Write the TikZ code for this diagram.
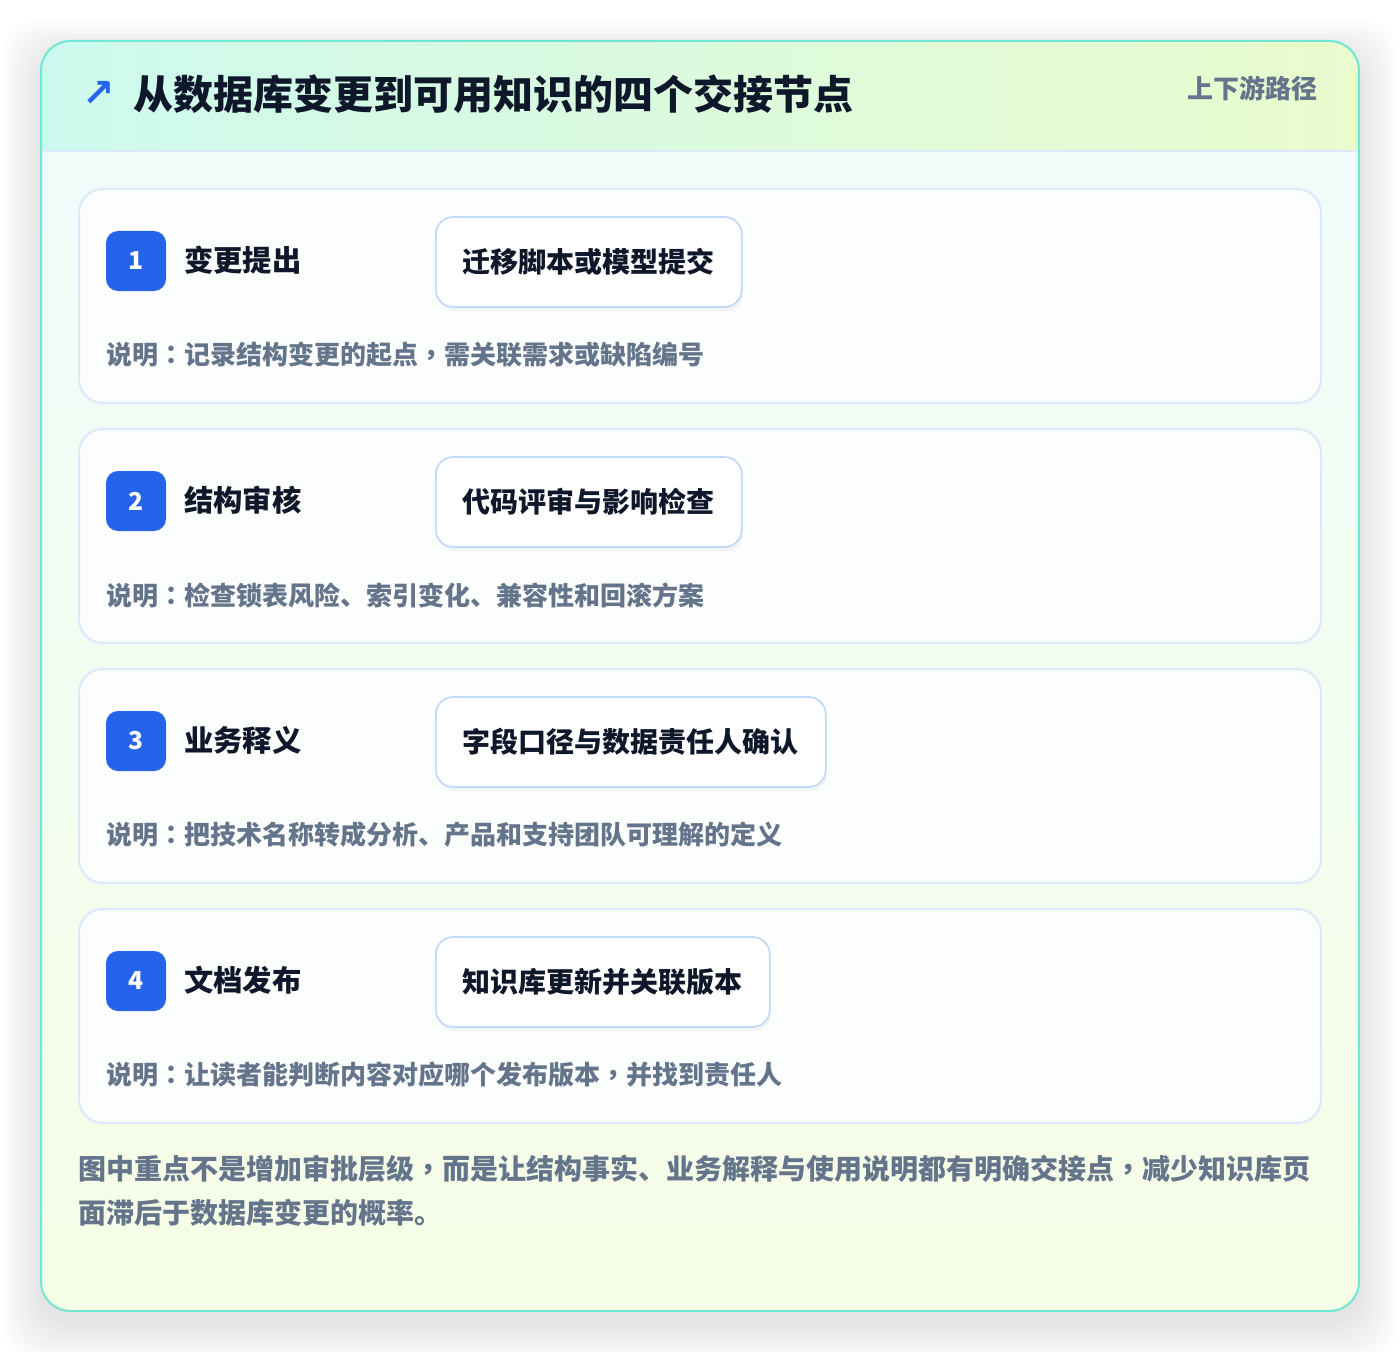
\documentclass[tikz,border=0pt]{standalone}
\usepackage{fontspec}
\setmainfont{Noto Sans CJK SC}
\newfontfamily\symfont{DejaVu Sans}
\newfontfamily\punct{Noto Sans CJK TC}
\usetikzlibrary{positioning}
\usepackage{xcolor}
\definecolor{panelline}{HTML}{6EE7D4}
\definecolor{headleft}{HTML}{CDFAEE}
\definecolor{headright}{HTML}{EAFBCD}
\definecolor{bodytop}{HTML}{F0FCFA}
\definecolor{bodybottom}{HTML}{F6FDE6}
\definecolor{cardfill}{HTML}{FCFEFD}
\definecolor{cardline}{HTML}{DCE8FB}
\definecolor{chipline}{HTML}{BFD7F8}
\definecolor{badgeblue}{HTML}{2563EB}
\definecolor{inkdark}{HTML}{0F172A}
\definecolor{inkgray}{HTML}{64748B}

\tikzset{
  card/.style={draw=cardline, line width=1.5pt, fill=cardfill, rounded corners=18pt},
  badge/.style={fill=badgeblue, text=white, rounded corners=9pt, minimum size=45pt, inner sep=0pt, font=\bfseries\fontsize{18.5}{20}\selectfont},
  steptitle/.style={anchor=west, inner sep=0pt, text=inkdark, font=\bfseries\fontsize{22}{26}\selectfont},
  chipbox/.style={draw=chipline, line width=1.2pt, fill=white, rounded corners=13pt, anchor=west, inner xsep=20.25pt, minimum height=67.5pt, text=inkdark, font=\bfseries\fontsize{21}{24}\selectfont},
  notetext/.style={anchor=west, inner sep=0pt, text=inkgray, font=\bfseries\fontsize{19.5}{22}\selectfont}
}

\begin{document}
\begin{tikzpicture}[x=0.75pt,y=-0.75pt]
		\useasboundingbox[fill=white] (0,0) rectangle (1400,1352);
		% shadow of the panel
		\foreach \s in {2,5,...,38}
			\fill[black, opacity=0.006, rounded corners=26pt] ({41-\s},{41-\s+16}) rectangle ({1359+\s},{1311+\s+12});
		%
		\begin{scope}
			\clip[rounded corners=22pt] (41,41) rectangle (1359,1311);
			\shade[top color=bodytop, bottom color=bodybottom] (41,151) rectangle (1359,1311);
			\shade[left color=headleft, right color=headright] (41,41) rectangle (1359,151);
			\draw[cardline, line width=1.5pt] (41,151) -- (1359,151);
		\end{scope}
		\draw[panelline, line width=1.5pt, rounded corners=22pt] (41,41) rectangle (1359,1311);
		%
		\node[anchor=center, inner sep=0pt, text=badgeblue, font=\symfont\bfseries\fontsize{29}{30}\selectfont] (arrowicon) at (99,94) {↗};
		\node[anchor=west, inner sep=0pt, text=inkdark, font=\bfseries\fontsize{30}{34}\selectfont] (title) at (133,94) {从数据库变更到可用知识的四个交接节点};
		\node[anchor=east, inner sep=0pt, text=inkgray, font=\bfseries\fontsize{19.5}{22}\selectfont] (route) at (1318,88) {上下游路径};
		%
		\foreach \i/\ttl/\chip/\desc in {
			1/变更提出/迁移脚本或模型提交/说明{\punct ：}记录结构变更的起点{\punct ，}需关联需求或缺陷编号,
			2/结构审核/代码评审与影响检查/说明{\punct ：}检查锁表风险、索引变化、兼容性和回滚方案,
			3/业务释义/字段口径与数据责任人确认/说明{\punct ：}把技术名称转成分析、产品和支持团队可理解的定义,
			4/文档发布/知识库更新并关联版本/说明{\punct ：}让读者能判断内容对应哪个发布版本{\punct ，}并找到责任人}
		{
			\pgfmathsetmacro{\top}{189+240*(\i-1)}
			\draw[card] (79,\top) rectangle (1321,{\top+214});
			\node[badge] (badge\i) at (136,{\top+72}) {\i};
			\node[steptitle] (step\i) at (184,{\top+71}) {\ttl};
			\fill[black, opacity=0.04, rounded corners=13pt] (437,{\top+31}) rectangle ({435+(\i==3?390:(\i==4?334:306))+2},{\top+122});
			\node[chipbox] (chip\i) at (435,{\top+73}) {\chip};
			\node[notetext] (note\i) at (106,{\top+166}) {\desc};
		}
		%
		\node[anchor=north west, inner sep=0pt, align=left, text=inkgray, font=\bfseries\fontsize{21}{32.6}\selectfont] (summary) at (78,1155) {图中重点不是增加审批层级{\punct ，}而是让结构事实、业务解释与使用说明都有明确交接点{\punct ，}减少知识库页\\面滞后于数据库变更的概率。};
	\end{tikzpicture}
\end{document}
